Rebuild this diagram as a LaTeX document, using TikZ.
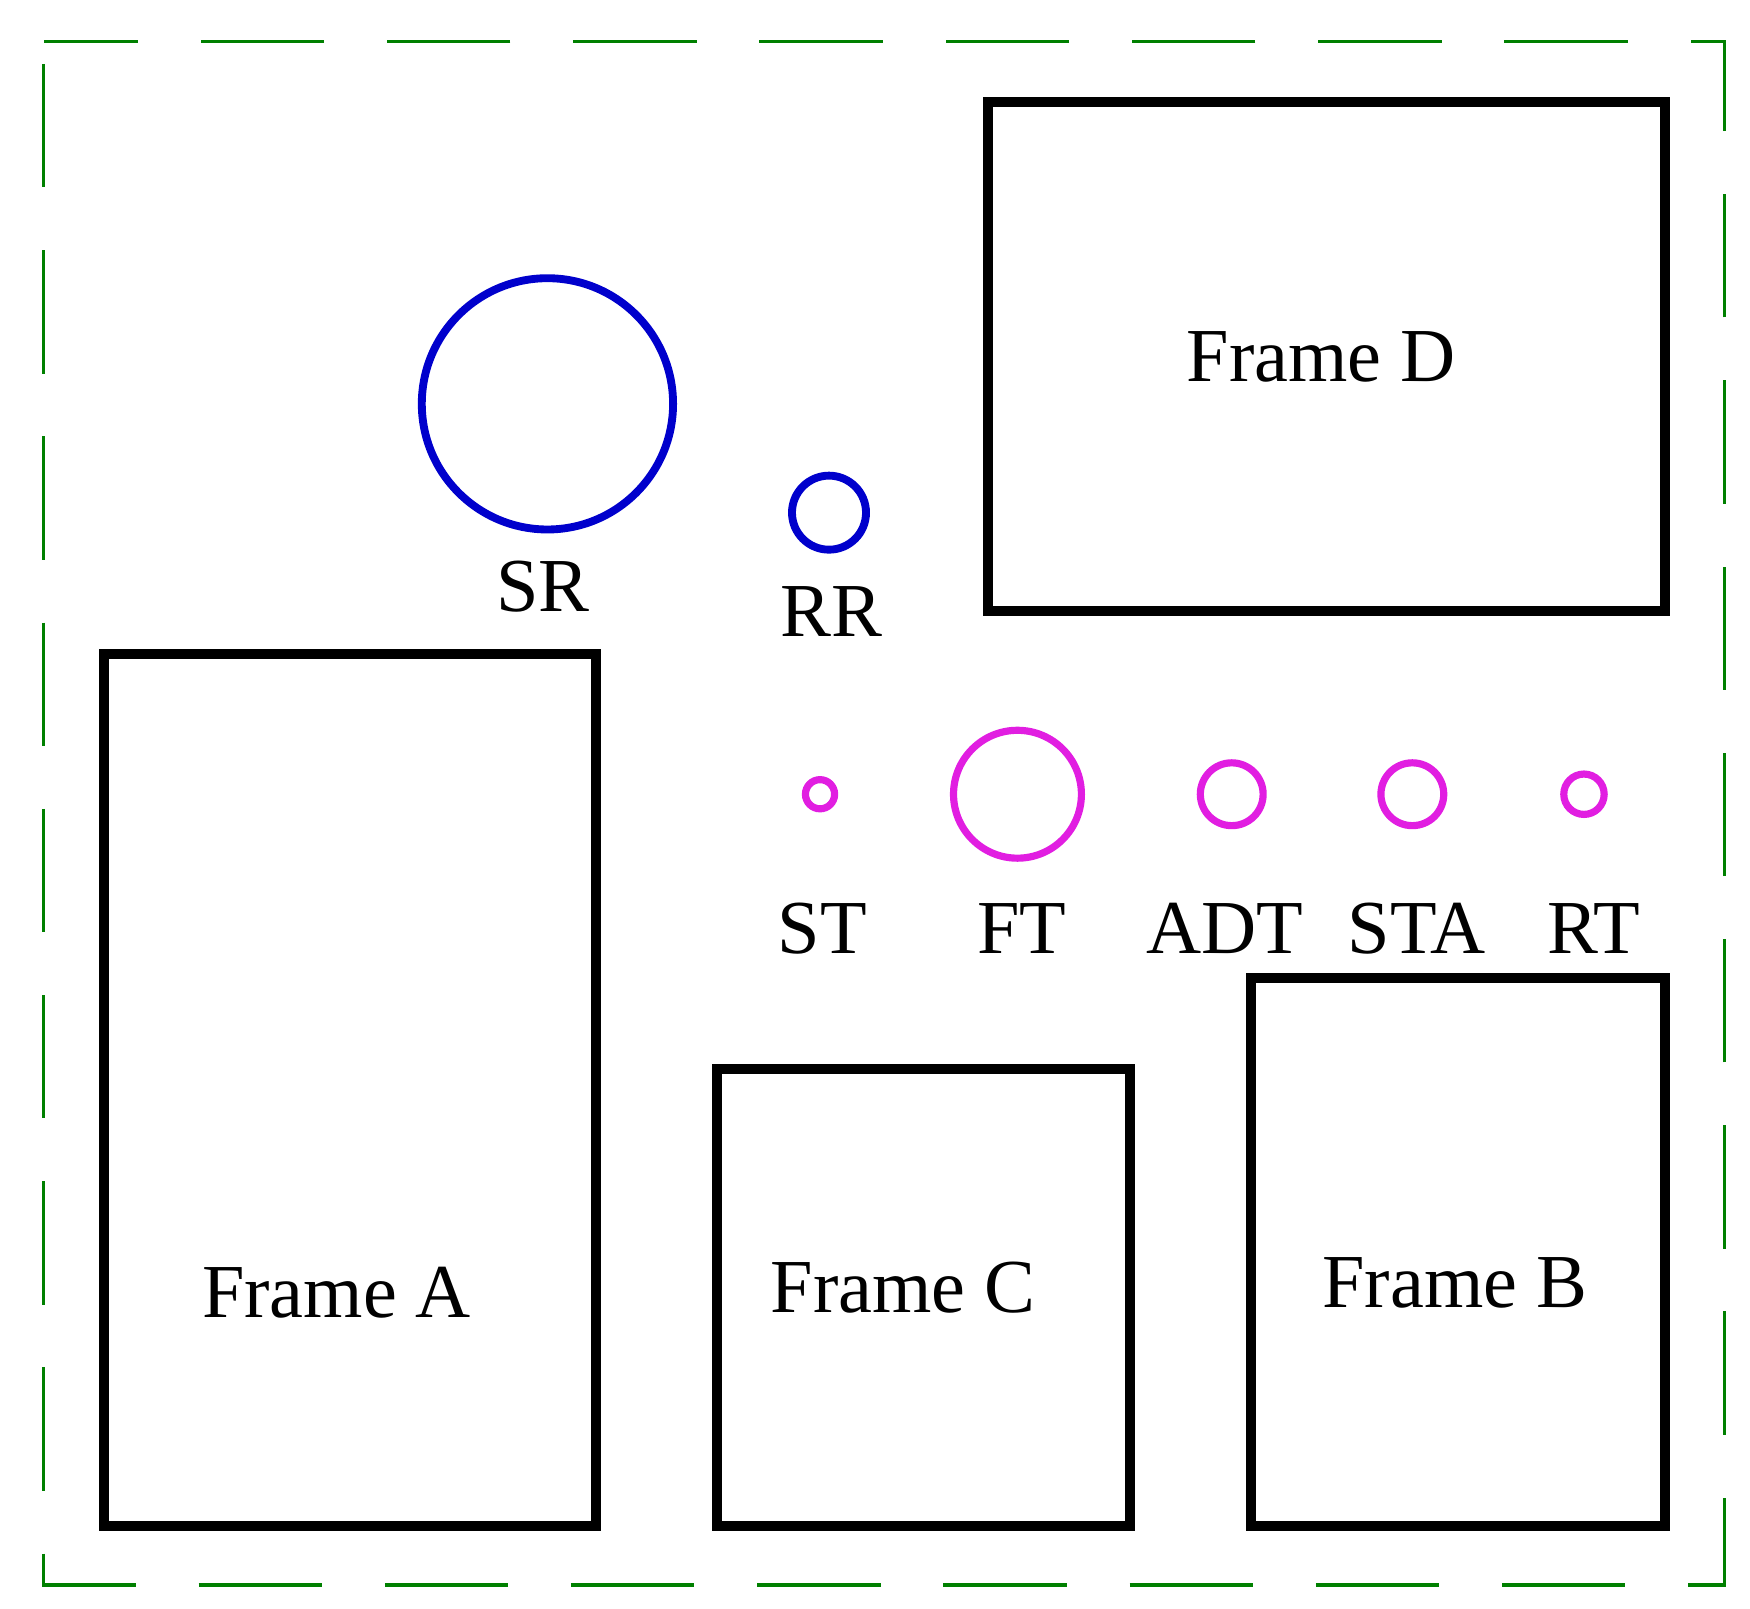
\documentclass[tikz,border=0pt]{standalone}
\usepackage{fontspec}
\setmainfont{Liberation Serif}
\definecolor{mg}{RGB}{225,30,225}
\begin{document}
\begin{tikzpicture}[x=0.5pt,y=-0.5pt,
  frame/.style={draw=black,line width=4.5pt},
  blu/.style={draw=blue!80!black,line width=3.5pt,circle,inner sep=0pt},
  mag/.style={draw=mg,line width=3.2pt,circle,inner sep=0pt},
  lbl/.style={font=\fontsize{34}{40}\selectfont}]
\useasboundingbox (0,0) rectangle (1560,1434);
\draw[green!50!black,line width=1.5pt,dash pattern=on 55pt off 28pt,dash phase=-10pt] (39,37) rectangle (1537,1413);
\draw[frame] (881,91) rectangle (1484,545);
\node[lbl] (fd) at (1178,318) {Frame D};
\draw[frame] (93,583) rectangle (531,1360);
\node[lbl] (fa) at (300,1152) {Frame A};
\draw[frame] (639,953) rectangle (1007,1360);
\node[lbl] (fc) at (805,1148) {Frame C};
\draw[frame] (1115,872) rectangle (1484,1360);
\node[lbl] (fb) at (1297,1144) {Frame B};
\node[blu,minimum size=112pt] (sr) at (488,360) {};
\node[lbl] (srl) at (484,523) {SR};
\node[blu,minimum size=33pt] (rr) at (739,457) {};
\node[lbl] (rrl) at (741,545) {RR};
\node[mag,minimum size=13pt] (st) at (731,708) {};
\node[mag,minimum size=57pt] (ft) at (907,708) {};
\node[mag,minimum size=28pt] (adt) at (1098,708) {};
\node[mag,minimum size=28pt] (sta) at (1259,708) {};
\node[mag,minimum size=18pt] (rt) at (1412,708) {};
\node[lbl] at (733,828) {ST};
\node[lbl] at (911,828) {FT};
\node[lbl] at (1092,828) {ADT};
\node[lbl] at (1263,828) {STA};
\node[lbl] at (1421,828) {RT};
\end{tikzpicture}
\end{document}
